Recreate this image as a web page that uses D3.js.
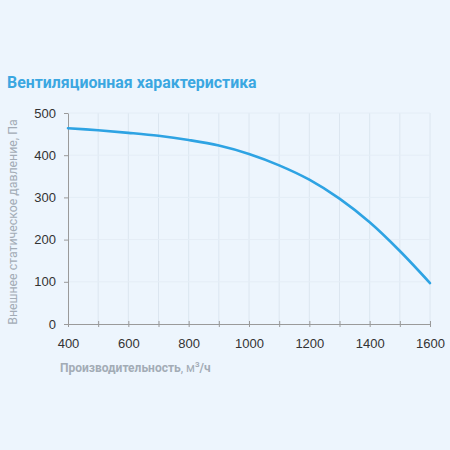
<!DOCTYPE html>
<html>
<head>
<meta charset="utf-8">
<script src="https://cdn.jsdelivr.net/npm/d3@7"></script>
<style>
  html, body { margin: 0; padding: 0; background: #edf5fd; }
  svg { display: block; font-family: Roboto, "Open Sans", sans-serif; }
</style>
</head>
<body>
<div class="chart"></div>
<script>
const flow = [400, 500, 600, 700, 800, 900, 1000, 1100, 1200, 1300, 1400, 1500, 1600];
const pressure = [464, 459, 453, 446, 436, 423, 403, 376, 342, 297, 241, 173, 97];
const xTickLabels = [400, 600, 800, 1000, 1200, 1400, 1600];
const yTickLabels = [0, 100, 200, 300, 400, 500];

const data = flow.map((f, i) => ({ name: f, value: pressure[i] }));

const margin = { top: 113, left: 68 };

const svg = d3
  .select('.chart')
  .append('svg')
  .attr('width', 450)
  .attr('height', 450);

svg
  .append('rect')
  .attr('width', 450)
  .attr('height', 450)
  .attr('fill', '#edf5fd');

svg
  .append('text')
  .attr('x', 7)
  .attr('y', 88)
  .attr('fill', '#3ba7e1')
  .attr('font-size', 15.9)
  .attr('font-weight', 'bold')
  .text('Вентиляционная характеристика');

const x = d3.scaleLinear().range([0, 362]).domain([400, 1600]);
const y = d3.scaleLinear().range([211, 0]).domain([0, 500]);

const g = svg.append('g').attr('transform', `translate(${margin.left}, ${margin.top})`);

// grid
g
  .append('g')
  .selectAll('line')
  .data(d3.range(500, 1601, 100))
  .enter()
  .append('line')
  .attr('x1', d => x(d))
  .attr('x2', d => x(d))
  .attr('y1', 0)
  .attr('y2', y(0))
  .attr('stroke', '#dce6f0')
  .attr('stroke-width', 1);

g
  .append('g')
  .selectAll('line')
  .data(yTickLabels.slice(1))
  .enter()
  .append('line')
  .attr('x1', 0)
  .attr('x2', x(1600))
  .attr('y1', d => y(d))
  .attr('y2', d => y(d))
  .attr('stroke', '#e4edf6')
  .attr('stroke-width', 1);

// axes
const xAxis = g
  .append('g')
  .attr('transform', `translate(0, ${y(0)})`)
  .call(
    d3.axisBottom(x)
      .tickValues(d3.range(400, 1601, 100))
      .tickSize(5)
      .tickSizeOuter(0)
      .tickFormat(d => (xTickLabels.includes(d) ? d : ''))
  );
xAxis.select('.domain').attr('stroke', '#9a9a9a');
xAxis.selectAll('.tick line').attr('stroke', '#9a9a9a').attr('y1', -3).attr('y2', 3);
xAxis
  .selectAll('.tick text')
  .attr('fill', '#333')
  .attr('font-size', 13)
  .attr('dy', '1.25em');

const yAxis = g
  .append('g')
  .call(d3.axisLeft(y).tickValues(yTickLabels).tickSize(4).tickSizeOuter(0));
yAxis.select('.domain').attr('stroke', '#9a9a9a');
yAxis.selectAll('.tick line').attr('stroke', '#9a9a9a');
yAxis
  .selectAll('.tick text')
  .attr('fill', '#333')
  .attr('font-size', 13)
  .attr('x', -12);

// axis titles
const xTitle = svg
  .append('text')
  .attr('x', 60)
  .attr('y', 372)
  .attr('fill', '#a3acb6')
  .attr('font-size', 12)
  .attr('font-weight', 'bold');
xTitle.append('tspan').text('Производительность');
xTitle.append('tspan').attr('font-weight', 'normal').text(', м');
xTitle.append('tspan').attr('font-size', 8).attr('dy', -5).text('3');
xTitle.append('tspan').attr('dy', 5).text('/ч');

svg
  .append('text')
  .attr('transform', 'translate(17, 222) rotate(-90)')
  .attr('text-anchor', 'middle')
  .attr('fill', '#a3acb6')
  .attr('font-size', 12.3)
  .text('Внешнее статическое давление, Па');

// curve
const line = d3.line().curve(d3.curveCatmullRom).x(d => x(d.name)).y(d => y(d.value));
g
  .append('path')
  .datum(data)
  .attr('fill', 'none')
  .attr('stroke', '#2ea3e3')
  .attr('stroke-linejoin', 'round')
  .attr('stroke-linecap', 'round')
  .attr('stroke-width', 2.6)
  .attr('d', line);
</script>
</body>
</html>
